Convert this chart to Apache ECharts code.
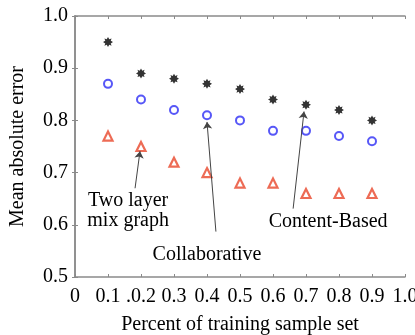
<!DOCTYPE html>
<html>
<head>
<meta charset="utf-8">
<script src="https://cdn.jsdelivr.net/npm/echarts@6/dist/echarts.min.js"></script>
<style>
  html, body { margin: 0; padding: 0; background: #fff; }
  #MaeChart { width: 415px; height: 335px; }
</style>
</head>
<body>
<div id="MaeChart"></div>
<script>
// training set percentage
const xValues = [0.1, 0.2, 0.3, 0.4, 0.5, 0.6, 0.7, 0.8, 0.9];
const xTickLabels = ['0', '0.1', '.0.2', '0.3', '0.4', '0.5', '0.6', '0.7', '0.8', '0.9', '1.0'];
// MAE per method
const contentBased = [0.95, 0.89, 0.88, 0.87, 0.86, 0.84, 0.83, 0.82, 0.80];
const collaborative = [0.87, 0.84, 0.82, 0.81, 0.80, 0.78, 0.78, 0.77, 0.76];
const twoLayer = [0.77, 0.75, 0.72, 0.70, 0.68, 0.68, 0.66, 0.66, 0.66];
// annotation arrows: [fromX, fromY, toX, toY] in data units
const arrows = [
    [0.182, 0.670, 0.197, 0.741],
    [0.427, 0.587, 0.400, 0.797],
    [0.661, 0.631, 0.694, 0.817]
];
// annotation texts: [x, y, text]
const notes = [
    [0.161, 0.627, 'Two layer\nmix graph'],
    [0.400, 0.542, 'Collaborative'],
    [0.767, 0.606, 'Content-Based']
];

const font = "'Liberation Serif', 'Times New Roman', serif";
const frameColor = '#8a8a8a';
// fat 8-point star, close to the printed marker
const starPath = 'path://M0,-10 L2.6,-5.5 L7.1,-7.1 L5.5,-2.6 L10,0 L5.5,2.6 L7.1,7.1 L2.6,5.5 L0,10 L-2.6,5.5 L-7.1,7.1 L-5.5,2.6 L-10,0 L-5.5,-2.6 L-7.1,-7.1 L-2.6,-5.5 Z';

function pairs(ys) {
    return xValues.map((x, i) => [x, ys[i]]);
}

const myChart = echarts.init(document.getElementById('MaeChart'));

const frameAxis = {
    axisLine: { show: true, lineStyle: { color: frameColor, width: 1.5 } },
    axisTick: { show: true, inside: true, length: 3, lineStyle: { color: frameColor, width: 1 } },
    splitLine: { show: false }
};

let option = {
    backgroundColor: '#fff',
    animation: false,
    textStyle: { fontFamily: font },
    grid: { left: 75, right: 10, top: 16, bottom: 58, containLabel: false, outerBoundsMode: 'none' },
    xAxis: [
        Object.assign({
            type: 'value', min: 0, max: 1, interval: 0.1, position: 'bottom',
            name: 'Percent of training sample set', nameLocation: 'middle', nameGap: 38,
            nameTextStyle: { color: '#000', fontSize: 20, fontFamily: font },
            axisLabel: {
                color: '#000', fontSize: 20, fontFamily: font, margin: 10,
                formatter: v => xTickLabels[Math.round(v * 10)]
            }
        }, frameAxis),
        Object.assign({
            type: 'value', min: 0, max: 1, interval: 0.1, position: 'top',
            axisLabel: { show: false }
        }, frameAxis)
    ],
    yAxis: [
        Object.assign({
            type: 'value', min: 0.5, max: 1, interval: 0.1, position: 'left',
            name: 'Mean absolute error', nameLocation: 'middle', nameGap: 47,
            nameTextStyle: { color: '#000', fontSize: 20, fontFamily: font },
            axisLabel: {
                color: '#000', fontSize: 20, fontFamily: font, margin: 7,
                formatter: v => v.toFixed(1)
            }
        }, frameAxis),
        Object.assign({
            type: 'value', min: 0.5, max: 1, interval: 0.1, position: 'right',
            axisLabel: { show: false }
        }, frameAxis)
    ],
    series: [
        {
            name: 'Content-Based', type: 'scatter', symbol: starPath, symbolSize: 10,
            itemStyle: { color: '#000' },
            data: pairs(contentBased),
            markLine: {
                silent: true, symbol: ['none', 'arrow'], symbolSize: 7,
                lineStyle: { color: '#444', width: 1, type: 'solid' },
                label: { show: false },
                data: arrows.map(a => [{ coord: [a[0], a[1]] }, { coord: [a[2], a[3]] }])
            },
            markPoint: {
                silent: true, symbol: 'circle', symbolSize: 0,
                label: {
                    show: true, position: 'inside', color: '#000', fontSize: 20,
                    fontFamily: font, lineHeight: 20, align: 'center',
                    formatter: p => p.name
                },
                data: notes.map(n => ({ name: n[2], coord: [n[0], n[1]] }))
            },
            z: 3
        },
        {
            name: 'Collaborative', type: 'scatter', symbol: 'circle', symbolSize: 8,
            itemStyle: { color: '#fff', borderColor: '#2d2df5', borderWidth: 2 },
            data: pairs(collaborative)
        },
        {
            name: 'Two layer mix graph', type: 'scatter', symbol: 'triangle', symbolSize: 9,
            itemStyle: { color: '#fff', borderColor: '#e8462a', borderWidth: 2.2 },
            data: pairs(twoLayer)
        }
    ]
};
myChart.setOption(option);
</script>
</body>
</html>
